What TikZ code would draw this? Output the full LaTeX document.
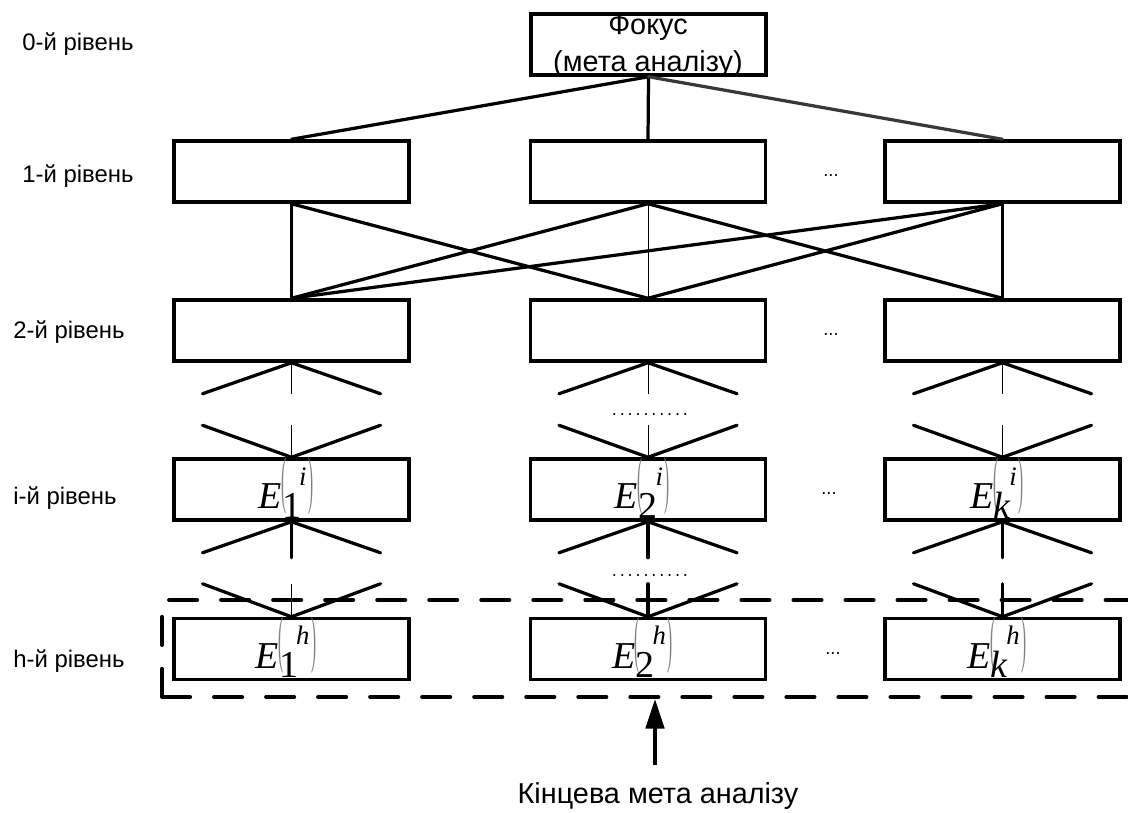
\documentclass[tikz,border=0pt]{standalone}
\usepackage[no-math]{fontspec}
\setmainfont{Liberation Sans}
\newfontfamily\eqfont{Liberation Serif}
\usepackage{graphicx}
\usepackage{xcolor}
\usetikzlibrary{arrows.meta}
\newcommand{\thinparen}[1]{\raisebox{5.1pt}{\textcolor{black!50}{\scalebox{0.4}[1.66]{#1}}}}
\newcommand{\elem}[2]{\textit{E}\kern0.3pt\rlap{\kern-0.5pt\thinparen{(}}\raisebox{-7pt}{#1}\kern-1.4pt\raisebox{16.4pt}{\fontsize{19}{19}\selectfont\itshape #2}\kern1.2pt\thinparen{)}\kern8pt}
\newcommand{\dotrow}{.\kern2pt.\kern2pt.\kern2pt.\kern2pt.\kern2pt.\kern2pt.\kern2pt.\kern2pt.\kern2pt.}
\tikzset{
  box/.style={draw, line width=2.6pt, minimum width=5.88cm, minimum height=1.52cm, inner sep=0pt},
  elbox/.style={box, font=\eqfont\fontsize{27}{30}\selectfont, text height=30pt, text depth=3pt},
  wire/.style={line width=2.3pt, line cap=round},
  hair/.style={line width=0.7pt},
  lvl/.style={anchor=west, inner sep=0pt, font=\fontsize{17}{20}\selectfont},
  gap/.style={font=\fontsize{13}{15}\selectfont},
  frame/.style={line width=2.8pt, line cap=round, dash pattern=on 20pt off 17pt},
  pointer/.style={line width=2.8pt, -{Triangle[length=21pt, width=13pt]}}
}

\begin{document}
\begin{tikzpicture}[x=0.025cm, y=-0.025cm]
\path[use as bounding box] (0,0) rectangle (1128,812);

% level captions
\node[lvl] at (22,44) {0-й рівень};
\node[lvl] at (22,176) {1-й рівень};
\node[lvl] at (13,332) {2-й рівень};
\node[lvl] at (13,498) {i-й рівень};
\node[lvl] at (13,661) {h-й рівень};

% focus of the hierarchy
\node[box] (focus) at (648.5,44.5) {};
\node[font=\fontsize{20.5}{26.3}\selectfont, align=center] (focusText) at (648,46) {Фокус\\(мета аналізу)};

% boxes of levels 1 and 2
\foreach \c/\x in {a/291.5, b/648, c/1002.5} {
  \node[box] (l1\c) at (\x,171.5) {};
  \node[box] (l2\c) at (\x,330.5) {};
}
% boxes of levels i and h
\node[elbox] (lia) at (291.5,489.5) {\elem{1}{i}};
\node[elbox] (lib) at (648,489.5) {\elem{2}{i}};
\node[elbox] (lic) at (1002.5,489.5) {\elem{\textit{k}}{i}};
\node[elbox] (lha) at (291.5,649) {\elem{1}{h}};
\node[elbox] (lhb) at (648,649) {\elem{2}{h}};
\node[elbox] (lhc) at (1002.5,649) {\elem{\textit{k}}{h}};

% gaps in the rows
\node[gap] (g1) at (831,176) {...};
\node[gap] (g2) at (831,335) {...};
\node[gap] (gi) at (829,494) {...};
\node[gap] (gh) at (833,654) {...};
\node[gap] (skip1) at (650,415) {\dotrow};
\node[gap] (skip2) at (650,576) {\dotrow};

% focus -> level 1
\draw[wire] (focus.south) -- (l1a.north);
\draw[wire] (focus.south) -- (l1b.north);
\draw[wire, draw=black!78] (focus.south) -- (l1c.north);

% level 1 -> level 2
\draw[wire] (l1a.south) -- (l2a.north);
\draw[wire] (l1a.south) -- (l2b.north);
\draw[wire] (l1b.south) -- (l2a.north);
\draw[hair] (l1b.south) -- (l2b.north);
\draw[wire] (l1b.south) -- (l2c.north);
\draw[wire] (l1c.south) -- (l2a.north);
\draw[wire] (l1c.south) -- (l2b.north);
\draw[wire] (l1c.south) -- (l2c.north);

% open fans between the lower levels
\foreach \c/\vs in {a/hair, b/wire, c/wire} {
  % below level 2
  \coordinate (o2\c-l) at ([shift={(-89,31)}]l2\c.south);
  \coordinate (o2\c-r) at ([shift={(89,31)}]l2\c.south);
  \coordinate (o2\c-m) at ([shift={(0,31)}]l2\c.south);
  \draw[wire] (o2\c-l) -- (l2\c.south) -- (o2\c-r);
  \draw[hair] (l2\c.south) -- (o2\c-m);
  % above level i
  \coordinate (ii\c-l) at ([shift={(-89,-32)}]li\c.north);
  \coordinate (ii\c-r) at ([shift={(89,-32)}]li\c.north);
  \coordinate (ii\c-m) at ([shift={(0,-32)}]li\c.north);
  \draw[wire] (ii\c-l) -- (li\c.north) -- (ii\c-r);
  \draw[hair] (ii\c-m) -- (li\c.north);
  % below level i
  \coordinate (oi\c-l) at ([shift={(-89,31)}]li\c.south);
  \coordinate (oi\c-r) at ([shift={(89,31)}]li\c.south);
  \coordinate (oi\c-m) at ([shift={(0,36)}]li\c.south);
  \draw[wire] (oi\c-l) -- (li\c.south) -- (oi\c-r);
  \draw[wire] (li\c.south) -- (oi\c-m);
  % above level h
  \coordinate (ih\c-l) at ([shift={(-89,-33)}]lh\c.north);
  \coordinate (ih\c-r) at ([shift={(89,-33)}]lh\c.north);
  \coordinate (ih\c-m) at ([shift={(0,-33)}]lh\c.north);
  \draw[wire] (ih\c-l) -- (lh\c.north) -- (ih\c-r);
  \draw[\vs] (ih\c-m) -- (lh\c.north);
}

% final goal
\draw[frame] (162,697) -- (162,600) -- (1160,600) (162,697) -- (1160,697);
\node[font=\fontsize{20.5}{24}\selectfont, inner sep=12.5pt] (goal) at (658,796) {Кінцева мета аналізу};
\coordinate (goalTip) at (655,699);
\draw[pointer] (goal.north -| goalTip) -- (goalTip);
\end{tikzpicture}
\end{document}
